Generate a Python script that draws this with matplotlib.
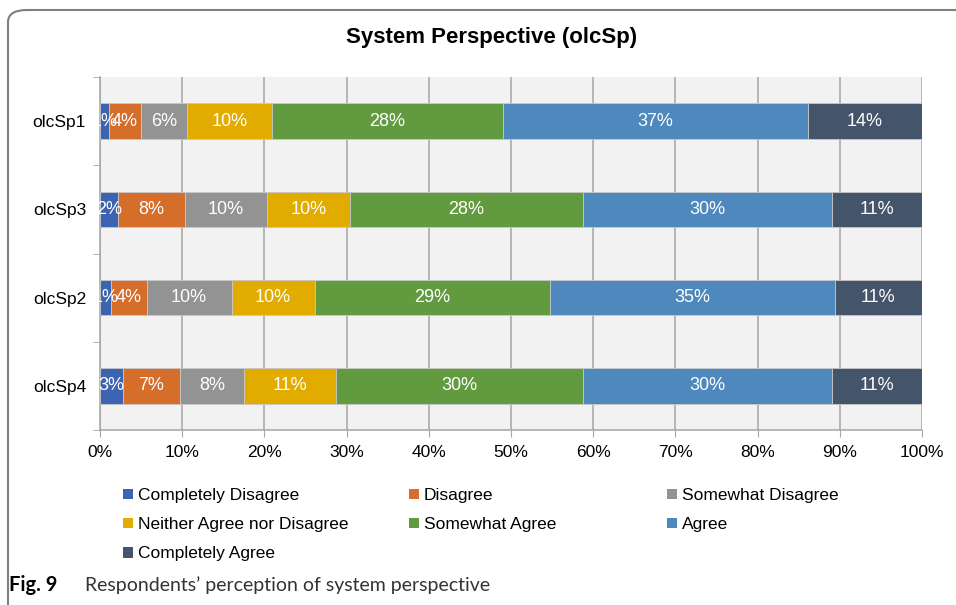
import matplotlib.pyplot as plt
from matplotlib.patches import FancyBboxPatch
import numpy as np

# Dados (percentual por item)
itens = ['olcSp1', 'olcSp3', 'olcSp2', 'olcSp4']
categorias = ['Completely Disagree', 'Disagree', 'Somewhat Disagree',
              'Neither Agree nor Disagree', 'Somewhat Agree', 'Agree',
              'Completely Agree']
completely_disagree = [1.1, 2.2, 1.3, 2.8]
disagree = [3.9, 8.1, 4.4, 6.9]
somewhat_disagree = [5.6, 10.0, 10.3, 7.8]
neither = [10.3, 10.1, 10.1, 11.2]
somewhat_agree = [28.1, 28.3, 28.6, 30.0]
agree = [37.1, 30.3, 34.7, 30.4]
completely_agree = [13.9, 11.0, 10.6, 10.9]
xticks = [0, 10, 20, 30, 40, 50, 60, 70, 80, 90, 100]

valores = [completely_disagree, disagree, somewhat_disagree, neither,
           somewhat_agree, agree, completely_agree]
cores = ['#3D64B0', '#D56D2B', '#939393', '#E2AB00', '#619A3F', '#4E88BD', '#44546A']

plt.rcParams['font.family'] = ['Liberation Sans', 'DejaVu Sans']

fig = plt.figure(figsize=(9.56, 6.05), dpi=100)
ax = fig.add_axes([100 / 956, 1 - 430 / 605, 822 / 956, 353 / 605])
ax.set_facecolor('#F2F2F2')

# Barras empilhadas
y = np.arange(len(itens))
esquerda = np.zeros(len(itens))
barras = []
for nome, vals, cor in zip(categorias, valores, cores):
    b = ax.barh(y, vals, left=esquerda, height=0.4, color=cor, label=nome,
                edgecolor='#C8C8C8', linewidth=0.6, zorder=3)
    ax.bar_label(b, labels=['%d%%' % round(v) for v in vals], label_type='center',
                 color='white', fontsize=13, zorder=4)
    esquerda += np.array(vals)
    barras.append(b)

# Eixos
ax.set_xlim(0, 100)
ax.set_ylim(len(itens) - 0.5, -0.5)
ax.set_xticks(xticks)
ax.set_xticklabels(['%d%%' % t for t in xticks], fontsize=12.5)
ax.set_yticks(y)
ax.set_yticklabels(itens, fontsize=12.5)
ax.set_yticks(np.arange(len(itens) + 1) - 0.5, minor=True)
ax.tick_params(axis='y', which='major', length=0, pad=10)
ax.tick_params(axis='y', which='minor', length=5, color='#A6A6A6')
ax.tick_params(axis='x', length=5, color='#A6A6A6', pad=6)
ax.grid(axis='x', color='#A6A6A6', linewidth=1.1, zorder=1)
ax.set_axisbelow(True)
for lado in ['top', 'right']:
    ax.spines[lado].set_visible(False)
for lado in ['left', 'bottom']:
    ax.spines[lado].set_color('#A6A6A6')
    ax.spines[lado].set_linewidth(1.1)

# Titulo
fig.text(492 / 956, 1 - 38 / 605, 'System Perspective (olcSp)', ha='center', va='center',
         fontsize=16, fontweight='bold')

# Legenda em tres colunas
colunas = [[0, 3, 6], [1, 4], [2, 5]]
pos_x = [123, 409, 667]
for col, px in zip(colunas, pos_x):
    leg = fig.legend([barras[i] for i in col], [categorias[i] for i in col],
                     loc='upper left', bbox_to_anchor=(px / 956, 1 - 488 / 605),
                     frameon=False, fontsize=12.5, handlelength=0.55, handleheight=0.55,
                     handletextpad=0.3, labelspacing=0.82, borderpad=0, borderaxespad=0)
    for h in leg.legend_handles:
        h.set_edgecolor('none')

# Moldura arredondada
moldura = FancyBboxPatch((8 / 956, -0.1), 1.2, (605 - 10) / 605 + 0.1,
                         boxstyle='round,pad=0,rounding_size=0.02',
                         transform=fig.transFigure, facecolor='none',
                         edgecolor='#7F7F7F', linewidth=1.5)
fig.patches.append(moldura)

# Legenda da figura
fig.text(9 / 956, 1 - 585 / 605, 'Fig. 9', ha='left', va='center', fontsize=14.5,
         fontweight='bold', family=['Lato', 'DejaVu Sans'])
fig.text(85 / 956, 1 - 585 / 605, 'Respondents\u2019 perception of system perspective',
         ha='left', va='center', fontsize=14, color='#333333', family=['Lato', 'DejaVu Sans'])

fig.savefig('out.png', dpi=100)
